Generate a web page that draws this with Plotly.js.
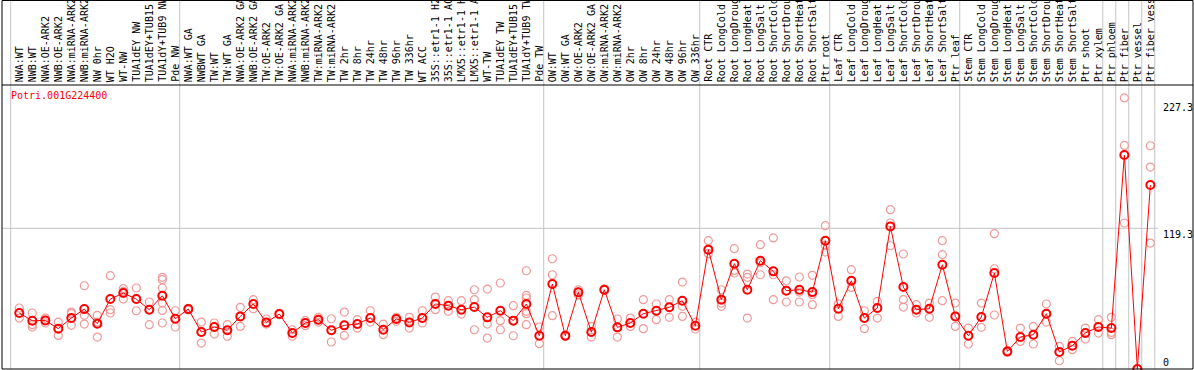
<!DOCTYPE html>
<html>
<head>
<meta charset="utf-8">
<script src="https://cdn.plot.ly/plotly-3.0.1.min.js"></script>
<style>html,body{margin:0;padding:0;background:#fff;}#chart{width:1194px;height:370px;}</style>
</head>
<body>
<div id="chart"></div>
<script>
const geneName = "Potri.001G224400";

const categories = [
  "NWA:WT","NWB:WT","NWA:OE-ARK2","NWB:OE-ARK2","NWA:miRNA-ARK2","NWB:miRNA-ARK2","NW 0hr","WT H2O","WT-NW","TUA1dEY NW","TUA1dEY+TUB15","TUA1dY+TUB9 NW","Pde NW",
  "NWA:WT GA","NWBWT GA","TW:WT","TW:WT GA","NWA:OE-ARK2 GA","NWB:OE-ARK2 GA","TW:OE-ARK2","TW:OE-ARK2 GA","NWA:miRNA-ARK2","NWB:miRNA-ARK2","TW:miRNA-ARK2","TW:miRNA-ARK2","TW 2hr","TW 8hr","TW 24hr","TW 48hr","TW 96hr","TW 336hr","WT ACC","35S::etr1-1 H2O","35S::etr1-1 ACC","LMX5::etr1-1 H2O","LMX5::etr1-1 ACC","WT-TW","TUA1dEY TW","TUA1dEY+TUB15","TUA1dY+TUB9 TW","Pde TW",
  "OW:WT","OW:WT GA","OW:OE-ARK2","OW:OE-ARK2 GA","OW:miRNA-ARK2","OW:miRNA-ARK2","OW 2hr","OW 8hr","OW 24hr","OW 48hr","OW 96hr","OW 336hr",
  "Root CTR","Root LongCold","Root LongDrought","Root LongHeat","Root LongSalt","Root ShortCold","Root ShortDrought","Root ShortHeat","Root ShortSalt","Ptr root",
  "Leaf CTR","Leaf LongCold","Leaf LongDrought","Leaf LongHeat","Leaf LongSalt","Leaf ShortCold","Leaf ShortDrought","Leaf ShortHeat","Leaf ShortSalt","Ptr leaf",
  "Stem CTR","Stem LongCold","Stem LongDrought","Stem LongHeat","Stem LongSalt","Stem ShortCold","Stem ShortDrought","Stem ShortHeat","Stem ShortSalt","Ptr shoot","Ptr xylem",
  "Ptr phloem","Ptr fiber","Ptr vessel","Ptr fiber vessel"
];

// number of categories in each separated group (left to right)
const groupSizes = [13, 28, 12, 10, 10, 11, 1, 1, 1, 1];

const meanValues = [
  47.5,40.9,41.2,34.2,43.2,50.8,38.4,59.3,64.4,59.3,50.3,62.1,42.6,
  50.8,31.3,35.6,32.8,44.6,55.1,39.5,46.6,30.5,39.0,41.8,32.8,37.0,38.1,43.2,33.3,42.4,39.5,43.2,55.1,53.7,50.3,52.5,43.8,49.4,41.0,55.1,28.2,
  72.0,28.2,65.0,31.3,67.2,35.3,39.0,46.9,49.4,52.3,57.9,36.7,
  101.2,58.8,89.3,67.2,91.8,82.8,66.4,67.2,65.2,108.8,
  51.1,74.8,43.2,51.7,120.9,69.5,50.3,51.1,88.4,44.6,
  28.2,44.1,81.4,14.9,27.1,29.1,46.9,14.4,19.8,30.5,35.6,
  34.7,181.4,0,156.0
];

const replicateValues = [
  [51.7,47.5,43.2],[47.5,37.6,35.6],[43.2,41.2,39.0],[39.8,34.2,28.5],[48.3,46.9,37.0],[70.6,45.5,38.1],[45.5,39.8,27.1],[79.1,50.3,47.5],[68.1,65.8,59.3],[68.7,59.3,49.4],[56.8,50.3,37.6],[77.7,75.7,68.7,55.9,49.7,39.0],[49.4,42.6,35.6],
  [51.5,50.8,50.1],[39.8,31.3,22.0],[39.0,35.6,29.6],[37.6,32.8,27.7],[52.3,44.6,36.1],[58.8,55.1,51.1],[42.4,39.5,38.1],[47.2,46.6,46.0],[33.3,30.5,27.7],[41.2,39.0,36.7],[43.8,41.8,39.8],[42.6,32.8,22.9],[48.3,37.0,28.5],[41.8,38.1,34.7],[49.4,43.2,39.8],[38.1,33.3,29.1],[43.8,42.4,40.4],[43.8,39.5,34.7],[49.4,43.2,39.0],[61.0,55.1,50.3],[57.9,53.7,48.9],[57.9,50.3,46.6],[67.2,58.8,33.3],[67.8,38.1,26.2],[72.9,41.0,33.3],[53.7,41.0,28.2],[83.3,62.4,60.2,48.9,46.9,37.6],[35.6,28.2,21.5],
  [93.5,79.9,45.2],[28.8,28.2,27.6],[67.2,65.0,62.8],[36.1,31.3,27.1],[67.8,67.2,66.6],[42.4,35.3,27.1],[43.2,39.0,36.1],[58.8,46.9,34.2],[55.1,49.4,41.8],[58.8,52.3,43.8],[73.7,53.1,44.6],[39.8,36.7,33.9],
  [108.8,101.2,97.8],[67.2,55.9,53.1],[102.0,83.6,81.4],[80.5,77.7,43.2],[105.4,90.0,79.9],[111.1,79.9,58.8],[74.8,66.4,56.8],[78.0,65.2,56.8],[79.4,63.0,54.5],[121.5,104.8,99.1],
  [55.1,51.1,44.6],[84.2,74.8,69.2],[49.4,43.2,34.2],[57.3,51.7,43.2],[135.1,123.8,104.5],[97.5,58.8,52.5],[54.5,50.3,47.5],[55.9,51.1,43.8],[108.8,96.9,57.9],[55.9,44.6,36.1],
  [34.7,28.2,21.2],[55.9,44.1,35.3],[114.7,85.0,45.8],[15.5,14.9,14.3],[34.7,27.1,23.4],[36.1,29.1,21.2],[55.1,46.9,39.8],[19.2,14.4,7.0],[23.4,19.8,16.4],[34.7,30.5,25.4],[41.8,35.6,30.5],
  [43.8,31.0,29.1],[229.8,189.6,123.8],[0,0,0],[189.3,171.2,106.8]
];

const scaleLabels = [227.3, 119.3, 0];
const gridValue = 119.3;

// ---- build traces ----
const idx = categories.map((c, i) => i);
const repX = [], repY = [], repText = [];
replicateValues.forEach((arr, i) => arr.forEach(v => { repX.push(i); repY.push(v); repText.push(categories[i]); }));

const mono = "DejaVu Sans Mono, Liberation Mono, monospace";

const traces = [
  {
    type: "scatter", mode: "markers", x: repX, y: repY, text: repText,
    marker: {symbol: "circle-open", size: 8, color: "#f09a9a", line: {width: 1.2, color: "#f09a9a"}},
    hoverinfo: "text+y", cliponaxis: false, showlegend: false
  },
  {
    type: "scatter", mode: "lines+markers", x: idx, y: meanValues, text: categories,
    line: {color: "#ff0000", width: 1},
    marker: {symbol: "circle-open", size: 8, color: "#ff0000", line: {width: 2, color: "#ff0000"}},
    hoverinfo: "text+y", cliponaxis: false, showlegend: false
  }
];

// ---- geometry ----
const W = 1194, H = 370, mL = 2, mR = 1, mT = 85, mB = 1;
const plotH = H - mT - mB;
const headerTop = 1 + mT / plotH;
const xMin = -1.331, xMax = 90.28;
const yMax = 240.8;
const sepOffset = -0.662;

const shapes = [];
// separator lines between groups
let k = 0;
const bounds = [0];
groupSizes.forEach(s => { k += s; bounds.push(k); });
bounds.forEach(b => {
  shapes.push({type: "line", xref: "x", yref: "paper", x0: b + sepOffset, x1: b + sepOffset, y0: 0, y1: headerTop,
    line: {color: "#c4c4c4", width: 1}, layer: "below"});
});
// horizontal grid line
shapes.push({type: "line", xref: "x", yref: "y", x0: xMin, x1: bounds[bounds.length - 1] + sepOffset + 0.25, y0: gridValue, y1: gridValue,
  line: {color: "#c4c4c4", width: 1}, layer: "below"});
// outer frame and header separator
shapes.push({type: "rect", xref: "paper", yref: "paper", x0: 0, x1: 1, y0: 0, y1: headerTop - 0.5 / plotH, line: {color: "#000", width: 1}});
shapes.push({type: "line", xref: "paper", yref: "paper", x0: 0, x1: 1, y0: 1, y1: 1, line: {color: "#000", width: 1}});

const annotations = [];
categories.forEach((c, i) => {
  annotations.push({x: i, y: 1 + 2 / plotH, xref: "x", yref: "paper", text: c, showarrow: false,
    textangle: -90, xanchor: "center", yanchor: "bottom", font: {family: mono, size: 10, color: "#000"}, borderpad: 0});
});
annotations.push({x: (10 - mL) / (W - mL - mR), y: 1 - 4 / plotH, xref: "paper", yref: "paper", text: geneName, showarrow: false,
  xanchor: "left", yanchor: "top", font: {family: mono, size: 10, color: "#ff0000"}, borderpad: 0});
scaleLabels.forEach(v => {
  annotations.push({x: (1162 - mL) / (W - mL - mR), y: v, xref: "paper", yref: "y", text: String(v), showarrow: false,
    xanchor: "left", yanchor: v === 0 ? "bottom" : "top", font: {family: mono, size: 10, color: "#000"}, borderpad: 0});
});

const layout = {
  width: W, height: H,
  margin: {l: mL, r: mR, t: mT, b: mB, pad: 0},
  paper_bgcolor: "#fff", plot_bgcolor: "#fff",
  showlegend: false,
  xaxis: {range: [xMin, xMax], showgrid: false, zeroline: false, showticklabels: false, ticks: "", showline: false, fixedrange: true},
  yaxis: {range: [0, yMax], showgrid: false, zeroline: false, showticklabels: false, ticks: "", showline: false, fixedrange: true},
  shapes: shapes,
  annotations: annotations,
  font: {family: mono, size: 10}
};

Plotly.newPlot("chart", traces, layout, {displayModeBar: false, staticPlot: false});
</script>
</body>
</html>
